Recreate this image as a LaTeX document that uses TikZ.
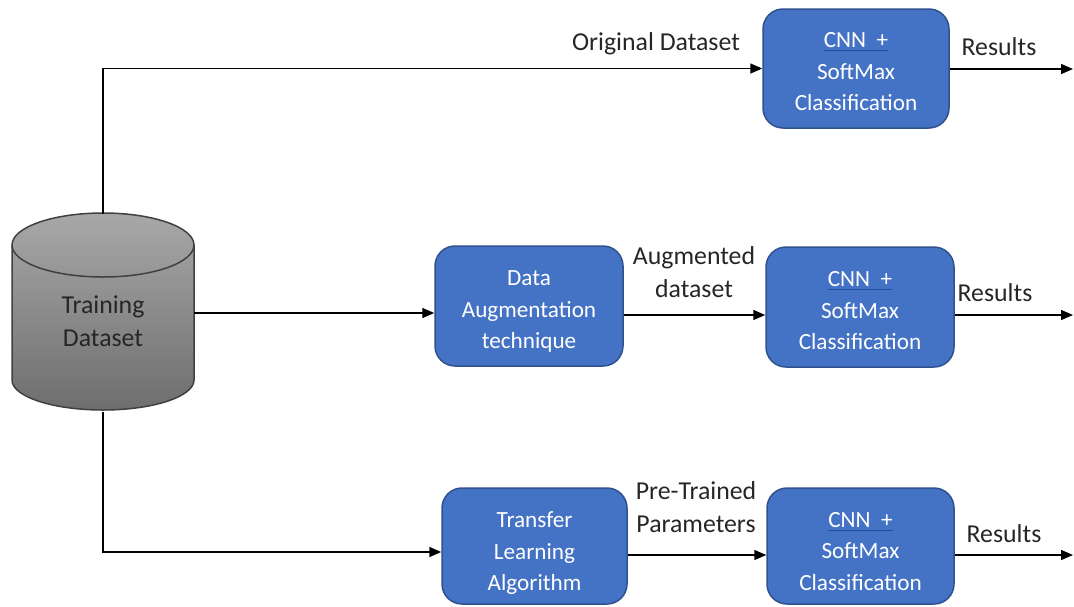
\documentclass[tikz,border=0pt]{standalone}
\usepackage{fontspec}
\setmainfont{Carlito}
\usetikzlibrary{arrows.meta,calc}
\definecolor{boxfill}{HTML}{4472C4}
\definecolor{boxline}{HTML}{2F528F}
\definecolor{ulblue}{HTML}{1F4E9A}
\definecolor{labelgray}{HTML}{262626}
\definecolor{cylTop}{HTML}{A8A8A8}
\definecolor{cylBot}{HTML}{6E6E6E}
\definecolor{cylLine}{HTML}{404040}
\newcommand{\cnnhead}{\textcolor{ulblue}{\underline{\textcolor{white}{CNN\ \ +}}}}
% invisible strut on the first line, pushes the text block down a little
\newcommand{\lift}[1]{\rule{0pt}{#1pt}}
\begin{document}
\begin{tikzpicture}[x=0.5pt,y=-0.5pt,
  procbox/.style={draw=boxline, line width=0.75pt, fill=boxfill, rounded corners=10pt,
    text=white, font=\fontsize{11.6}{15.75}\selectfont, align=center, inner sep=0pt},
  lbl/.style={text=labelgray, font=\fontsize{12.9}{16.5}\selectfont, align=center, inner sep=0pt},
  flow/.style={draw=black, line width=0.75pt, -{Triangle[length=6pt,width=5pt]}},
]
\useasboundingbox (0,0) rectangle (1074,606);

% database cylinder
\shade[top color=cylTop, bottom color=cylBot, draw=cylLine, line width=0.75pt]
  (12,245) -- (12,380) arc[start angle=180, end angle=0, x radius=91, y radius=30]
  -- (194,245) arc[start angle=0, end angle=-180, x radius=91, y radius=32] -- cycle;
\draw[cylLine, line width=0.75pt]
  (12,245) arc[start angle=180, end angle=0, x radius=91, y radius=32];
\node[minimum width=91pt, minimum height=99pt, inner sep=0pt] (db) at (103,313) {};
\node[lbl] (dbtext) at (103,321) {Training\\Dataset};

% processing boxes
\node[procbox, minimum width=93pt, minimum height=59.5pt] (cnn1) at (856,68.5)
  {\lift{10.8}\cnnhead\\SoftMax\\Classification};
\node[procbox, minimum width=94pt, minimum height=60pt] (aug) at (529,306)
  {\lift{13.3}Data\\Augmentation\\technique};
\node[procbox, minimum width=94pt, minimum height=60pt] (cnn2) at (860,307)
  {\lift{11.3}\cnnhead\\SoftMax\\Classification};
\node[procbox, minimum width=92.5pt, minimum height=58pt] (tl) at (534.5,546)
  {\lift{15.4}Transfer\\Learning\\Algorithm};
\node[procbox, minimum width=93.5pt, minimum height=58pt] (cnn3) at (860.5,546)
  {\lift{12.8}\cnnhead\\SoftMax\\Classification};

% output ends
\coordinate (out1) at (1073,69);
\coordinate (out2) at (1073,315);
\coordinate (out3) at (1073,555);

% connectors
\draw[flow] (db.north) |- (cnn1.west);
\draw[flow] (cnn1.east |- out1) -- (out1);

\draw[flow] (db.east) -- (db.east -| aug.west);
\draw[flow] (aug.east |- out2) -- (cnn2.west |- out2);
\draw[flow] (cnn2.east |- out2) -- (out2);

\draw[flow] (db.south) |- ($(tl.west)+(0,6)$);
\draw[flow] (tl.east |- out3) -- (cnn3.west |- out3);
\draw[flow] (cnn3.east |- out3) -- (out3);

% labels
\node[lbl] (lorig) at (656,44) {Original Dataset};
\node[lbl] (res1) at (999,47) {Results};
\node[lbl] (laug) at (694,272) {Augmented\\dataset};
\node[lbl] (res2) at (995,293) {Results};
\node[lbl] (lpre) at (696,507) {Pre-Trained\\Parameters};
\node[lbl] (res3) at (1004,534) {Results};
\end{tikzpicture}
\end{document}
